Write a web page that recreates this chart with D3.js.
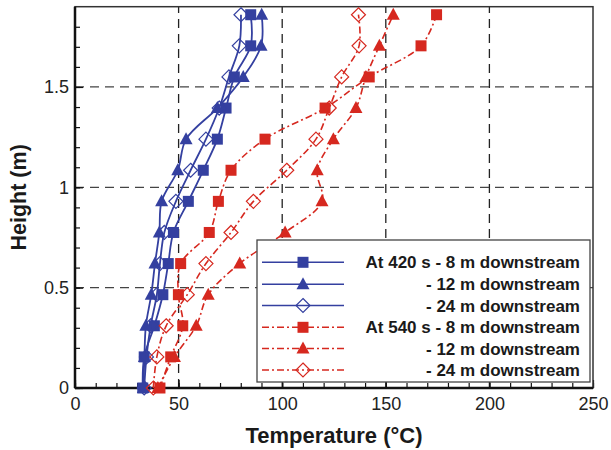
<!DOCTYPE html>
<html><head><meta charset="utf-8">
<script src="https://cdn.jsdelivr.net/npm/d3@7"></script>
<style>body{margin:0;background:#fff}svg{display:block}</style>
</head><body>
<svg id="c" width="611" height="450"></svg>
<script>
const heights = [0, 0.155, 0.31, 0.465, 0.62, 0.775, 0.93, 1.085, 1.24, 1.395, 1.55, 1.705, 1.86];
const blue8  = [32.7, 33.4, 38.3, 42.4, 45.0, 47.5, 54.7, 61.9, 68.7, 72.9, 76.9, 84.8, 84.8];
const blue12 = [33.0, 33.5, 34.2, 36.8, 38.6, 40.7, 41.8, 49.6, 53.6, 68.7, 81.2, 89.8, 90.1];
const blue24 = [33.4, 34.5, 36.5, 39.5, 41.0, 43.1, 48.7, 55.8, 63.2, 69.6, 74.3, 79.3, 80.1];
const red8   = [41.0, 46.2, 52.0, 49.9, 51.0, 64.8, 69.2, 75.3, 91.7, 120.7, 142.0, 167.0, 174.5];
const red12  = [40.0, 48.0, 58.5, 64.3, 79.5, 101.4, 119.2, 116.9, 124.7, 135.6, 140.4, 146.9, 153.6];
const red24  = [37.8, 39.5, 44.0, 54.2, 63.2, 75.3, 86.1, 102.2, 116.3, 122.7, 128.7, 137.1, 136.8];
const seriesNames = ["At 420 s - 8 m downstream", "- 12 m downstream", "- 24 m downstream",
                     "At 540 s - 8 m downstream", "- 12 m downstream", "- 24 m downstream"];
const xTicks = [0, 50, 100, 150, 200, 250];
const yTicks = [0, 0.5, 1, 1.5];

const BLUE = "#3440a0", RED = "#d6281f";
const series = [
  {name: seriesNames[0], vals: blue8,  color: BLUE, marker: "square",   dash: null},
  {name: seriesNames[1], vals: blue12, color: BLUE, marker: "triangle", dash: null},
  {name: seriesNames[2], vals: blue24, color: BLUE, marker: "diamond",  dash: null},
  {name: seriesNames[3], vals: red8,   color: RED,  marker: "square",   dash: "7,3,2,3"},
  {name: seriesNames[4], vals: red12,  color: RED,  marker: "triangle", dash: "7,3,2,3"},
  {name: seriesNames[5], vals: red24,  color: RED,  marker: "diamond",  dash: "7,3,2,3"}
];

const svg = d3.select("#c");
const L = 75, R = 593, T = 6.7, B = 388;
const x = d3.scaleLinear().domain([0, 250]).range([L, R]);
const y = d3.scaleLinear().domain([0, 1.9]).range([B, T]);
const font = "'Liberation Sans', Arial, Helvetica, sans-serif";

// grid
const g = svg.append("g");
[50, 100, 150, 200].forEach(v => g.append("line").attr("x1", x(v)).attr("x2", x(v)).attr("y1", B).attr("y2", T)
  .attr("stroke", "#222").attr("stroke-width", 1.3).attr("stroke-dasharray", "9,6"));
[0.5, 1, 1.5].forEach(v => g.append("line").attr("x1", L).attr("x2", R).attr("y1", y(v)).attr("y2", y(v))
  .attr("stroke", "#444").attr("stroke-width", 1.3).attr("stroke-dasharray", "9,6"));

// axes
const xAxis = d3.axisBottom(x).tickValues(xTicks).tickSize(-8).tickPadding(9).tickFormat(d3.format("d"));
const xMinor = d3.axisBottom(x).tickValues(d3.range(0, 251, 10)).tickSize(-5).tickFormat("");
const yAxis = d3.axisLeft(y).tickValues(yTicks).tickSize(-8).tickPadding(6).tickFormat(d => d);
const yMinor = d3.axisLeft(y).tickValues(d3.range(0, 19).map(i => i / 10)).tickSize(-5).tickFormat("");
function styleAxis(sel) {
  sel.select(".domain").remove();
  sel.selectAll("line").attr("stroke", "#111").attr("stroke-width", 1.2);
  sel.selectAll("text").attr("font-family", font).attr("font-size", 18).attr("fill", "#222");
}
svg.append("g").attr("transform", `translate(0,${B})`).call(xMinor).call(styleAxis);
svg.append("g").attr("transform", `translate(0,${B})`).call(xAxis).call(styleAxis);
svg.append("g").attr("transform", `translate(${L},0)`).call(yMinor).call(styleAxis);
svg.append("g").attr("transform", `translate(${L},0)`).call(yAxis).call(styleAxis);

// frame
svg.append("rect").attr("x", L).attr("y", T).attr("width", R - L).attr("height", B - T)
  .attr("fill", "none").attr("stroke", "#333").attr("stroke-width", 1.5);
svg.append("line").attr("x1", L).attr("x2", R).attr("y1", B).attr("y2", B).attr("stroke", "#111").attr("stroke-width", 2.5);
svg.append("line").attr("x1", L).attr("x2", L).attr("y1", T).attr("y2", B).attr("stroke", "#111").attr("stroke-width", 2.5);

function drawMarker(sel, type, color, cx, cy) {
  if (type === "square") {
    sel.append("rect").attr("x", cx - 5.5).attr("y", cy - 5.5).attr("width", 11).attr("height", 11).attr("fill", color);
  } else if (type === "triangle") {
    sel.append("path").attr("d", `M${cx},${cy - 7}L${cx + 6.5},${cy + 5}L${cx - 6.5},${cy + 5}Z`).attr("fill", color);
  } else {
    sel.append("path").attr("d", `M${cx},${cy - 7}L${cx + 7},${cy}L${cx},${cy + 7}L${cx - 7},${cy}Z`)
      .attr("fill", "none").attr("stroke", color).attr("stroke-width", 1.2);
  }
}

const line = d3.line().x(d => x(d[0])).y(d => y(d[1])).curve(d3.curveCatmullRom.alpha(0.5));
const plot = svg.append("g");
series.forEach(s => {
  const pts = s.vals.map((v, i) => [v, heights[i]]);
  plot.append("path").datum(pts).attr("d", line).attr("fill", "none").attr("stroke", s.color)
    .attr("stroke-width", s.dash ? 1.6 : 1.8).attr("stroke-dasharray", s.dash);
  const mg = plot.append("g");
  pts.forEach(p => drawMarker(mg, s.marker, s.color, x(p[0]), y(p[1])));
});

// legend
const lg = svg.append("g");
lg.append("rect").attr("x", 257).attr("y", 240).attr("width", 333).attr("height", 142)
  .attr("fill", "#fff").attr("stroke", "#444").attr("stroke-width", 1.3);
const rowY = [262.3, 284.3, 305.5, 327.3, 348.5, 370];
series.forEach((s, i) => {
  lg.append("line").attr("x1", 262).attr("x2", 344).attr("y1", rowY[i]).attr("y2", rowY[i])
    .attr("stroke", s.color).attr("stroke-width", 1.6).attr("stroke-dasharray", s.dash);
  drawMarker(lg, s.marker, s.color, 303, rowY[i]);
  lg.append("text").attr("x", 580).attr("y", rowY[i]).attr("dy", "0.36em").attr("text-anchor", "end")
    .attr("font-family", font).attr("font-weight", "bold").attr("font-size", 17).attr("fill", "#1a1a1a").text(s.name);
});

// titles
svg.append("text").attr("x", (L + R) / 2).attr("y", 443).attr("text-anchor", "middle")
  .attr("font-family", font).attr("font-weight", "bold").attr("font-size", 22).attr("fill", "#1a1a1a").text("Temperature (°C)");
svg.append("text").attr("transform", `translate(25.5,${(T + B) / 2}) rotate(-90)`).attr("text-anchor", "middle")
  .attr("font-family", font).attr("font-weight", "bold").attr("font-size", 21.5).attr("fill", "#1a1a1a").text("Height (m)");
</script>
</body></html>
